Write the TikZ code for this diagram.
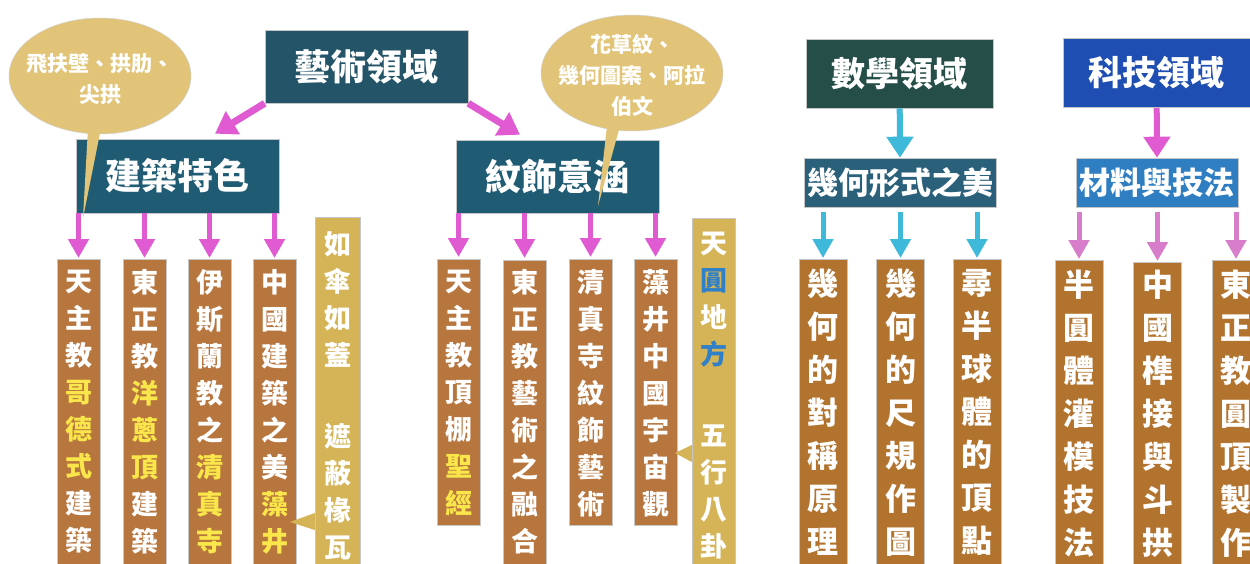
\documentclass[tikz,border=0pt]{standalone}
\usepackage{fontspec}
\setmainfont{Noto Sans CJK TC}
\usetikzlibrary{arrows.meta,shapes.geometric,calc}
\definecolor{artc}{HTML}{245468}
\definecolor{subc}{HTML}{1F5B73}
\definecolor{mathc}{HTML}{254E49}
\definecolor{geoc}{HTML}{2A607A}
\definecolor{techc}{HTML}{1F4EB2}
\definecolor{matc}{HTML}{2F7EC2}
\definecolor{brn}{HTML}{B8763F}
\definecolor{brn2}{HTML}{B2732F}
\definecolor{gold}{HTML}{D4B457}
\definecolor{ell}{HTML}{E2C478}
\definecolor{hl}{HTML}{F9E64A}
\definecolor{mag}{HTML}{E05BD2}
\definecolor{pnk}{HTML}{D77DC9}
\definecolor{cyn}{HTML}{3EB9D9}
\definecolor{blu}{HTML}{2F80C8}
\tikzset{
  hdr/.style={fill=#1, draw=gray!45, line width=0.6pt, text=white, inner sep=0pt},
  colbox/.style={fill=#1, draw=gray!45, line width=0.5pt, anchor=north, inner sep=0pt},
  ctext/.style={text=white, font=\bfseries\fontsize{27}{37}\selectfont, align=center, anchor=north, inner sep=0pt},
  mtext/.style={text=white, font=\bfseries\fontsize{31}{43}\selectfont, align=center, anchor=north, inner sep=0pt},
  bubble/.style={ellipse, fill=ell, draw=gray!35, line width=0.5pt, inner sep=0pt, minimum width=182pt, minimum height=116pt},
  btext/.style={inner sep=0pt, text=white, font=\bfseries\fontsize{21}{31}\selectfont, align=center},
  bigarr/.style={draw=#1, line width=7pt, -{Triangle[width=26pt,length=21pt]}},
  colarr/.style={draw=#1, line width=5.5pt, -{Triangle[width=20pt,length=19pt]}, shorten >=1pt},
}
\newcommand{\hl}[1]{\textcolor{hl}{#1}}
\begin{document}
\begin{tikzpicture}[x=1pt,y=-1pt]
\useasboundingbox (0,0) rectangle (1250,563);
\clip (0,0) rectangle (1250,563);
\fill[white] (0,0) rectangle (1250,563);

% ---------- Art domain ----------
\node[hdr=artc, minimum width=203pt, minimum height=73pt, font=\bfseries\fontsize{36}{36}\selectfont] (art) at (366.5,66.5) {藝術領域};
\node[hdr=subc, minimum width=203pt, minimum height=74pt, font=\bfseries\fontsize{36}{36}\selectfont] (arch) at (177.5,176) {建築特色};
\node[hdr=subc, minimum width=203pt, minimum height=73pt, font=\bfseries\fontsize{36}{36}\selectfont] (orn) at (557.5,176.5) {紋飾意涵};
\draw[bigarr=mag] (art.south west) -- ([xshift=37.5pt,yshift=5pt]arch.north);
\draw[bigarr=mag] (art.south east) -- ([xshift=-37.5pt,yshift=5pt]orn.north);

% architecture columns
\node[colbox=brn, minimum width=43pt, minimum height=320pt] (a1) at (78.5,259) {};
\node[colbox=brn, minimum width=43pt, minimum height=320pt] (a2) at (144.5,259) {};
\node[colbox=brn, minimum width=43pt, minimum height=320pt] (a3) at (209.5,259) {};
\node[colbox=brn, minimum width=43pt, minimum height=320pt] (a4) at (274.5,259) {};
\node[ctext] (a1t) at ([yshift=-10.5pt]a1.north) {天\\主\\教\\\hl{哥}\\\hl{德}\\\hl{式}\\建\\築};
\node[ctext] (a2t) at ([yshift=-10.5pt]a2.north) {東\\正\\教\\\hl{洋}\\\hl{蔥}\\\hl{頂}\\建\\築};
\node[ctext] (a3t) at ([yshift=-10.5pt]a3.north) {伊\\斯\\蘭\\教\\之\\\hl{清}\\\hl{真}\\\hl{寺}};
\node[ctext] (a4t) at ([yshift=-10.5pt]a4.north) {中\\國\\建\\築\\之\\美\\\hl{藻}\\\hl{井}};
\foreach \c in {a1,a2,a3,a4} \draw[colarr=mag] (\c.north |- arch.south) -- (\c.north);

% callout box 1
\node[colbox=gold, minimum width=45pt, minimum height=360pt] (k1) at (337.5,217) {};
\node[ctext] (k1t) at ([yshift=-14.5pt]k1.north) {如\\傘\\如\\蓋\\[44pt]遮\\蔽\\椽\\瓦};
\fill[gold] ([yshift=-296pt]k1.north west) -- (290,522) -- ([yshift=-313pt]k1.north west) -- cycle;

% ornament columns
\node[colbox=brn, minimum width=43pt, minimum height=266pt] (b1) at (458.5,259) {};
\node[colbox=brn, minimum width=43pt, minimum height=320pt] (b2) at (524.5,260) {};
\node[colbox=brn, minimum width=43pt, minimum height=266pt] (b3) at (590.5,259) {};
\node[colbox=brn, minimum width=43pt, minimum height=266pt] (b4) at (655.5,259) {};
\node[ctext] (b1t) at ([yshift=-10.5pt]b1.north) {天\\主\\教\\頂\\棚\\\hl{聖}\\\hl{經}};
\node[ctext] (b2t) at ([yshift=-9.5pt]b2.north) {東\\正\\教\\藝\\術\\之\\融\\合};
\node[ctext] (b3t) at ([yshift=-10.5pt]b3.north) {清\\真\\寺\\紋\\飾\\藝\\術};
\node[ctext] (b4t) at ([yshift=-10.5pt]b4.north) {藻\\井\\中\\國\\宇\\宙\\觀};
\foreach \c in {b1,b2,b3,b4} \draw[colarr=mag] (\c.north |- orn.south) -- ([yshift=1pt]\c.north);

% callout box 2
\node[colbox=gold, minimum width=43pt, minimum height=360pt] (k2) at (713.5,218) {};
\node[ctext] (k2t) at ([yshift=-13.5pt]k2.north) {天\\\textcolor{blu}{圓}\\地\\\textcolor{blu}{方}\\[44pt]五\\行\\八\\卦};
\fill[gold] ([yshift=-227pt]k2.north west) -- (675,453) -- ([yshift=-244pt]k2.north west) -- cycle;

% speech bubbles
\node[bubble] (e1) at (100,76) {};
\node[btext] (e1t) at (100,79) {飛扶壁、拱肋、\\尖拱};
\fill[ell] (88,128) -- (101,128) -- (83,218) -- cycle;
\node[bubble] (e2) at (632,73) {};
\node[btext] (e2t) at (632,75) {花草紋、\\幾何圖案、阿拉\\伯文};
\fill[ell] (607,126) -- (620,126) -- (598,206) -- cycle;

% ---------- Math domain ----------
\node[hdr=mathc, minimum width=187pt, minimum height=69pt, font=\bfseries\fontsize{34}{34}\selectfont] (math) at (899.5,73.5) {數學領域};
\node[hdr=geoc, minimum width=192pt, minimum height=49pt, font=\bfseries\fontsize{31}{31}\selectfont] (geo) at (900,182.5) {幾何形式之美};
\draw[bigarr=cyn, line width=6pt] (math) -- (geo.north);
\node[colbox=brn2, minimum width=48pt, minimum height=320pt] (m1) at (823,259) {};
\node[colbox=brn2, minimum width=48pt, minimum height=320pt] (m2) at (900.5,259) {};
\node[colbox=brn2, minimum width=48pt, minimum height=320pt] (m3) at (977,259) {};
\node[mtext] (m1t) at ([yshift=-10pt]m1.north) {幾\\何\\的\\對\\稱\\原\\理};
\node[mtext] (m2t) at ([yshift=-10pt]m2.north) {幾\\何\\的\\尺\\規\\作\\圖};
\node[mtext] (m3t) at ([yshift=-10pt]m3.north) {尋\\半\\球\\體\\的\\頂\\點};
\foreach \c in {m1,m2,m3} \draw[colarr=cyn, line width=5pt] ([yshift=-5pt]\c.north |- geo.south) -- (\c.north);

% ---------- Tech domain ----------
\node[hdr=techc, minimum width=187pt, minimum height=69pt, font=\bfseries\fontsize{34}{34}\selectfont] (tech) at (1156.5,73) {科技領域};
\node[hdr=matc, minimum width=162pt, minimum height=49pt, font=\bfseries\fontsize{31}{31}\selectfont] (mat) at (1157,182.5) {材料與技法};
\draw[bigarr=mag, line width=6pt] (tech) -- (mat.north);
\node[colbox=brn2, minimum width=48pt, minimum height=320pt] (t1) at (1079,260) {};
\node[colbox=brn2, minimum width=48pt, minimum height=320pt] (t2) at (1157.5,262) {};
\node[colbox=brn2, minimum width=48pt, minimum height=320pt] (t3) at (1236,260) {};
\node[mtext] (t1t) at ([yshift=-10pt]t1.north) {半\\圓\\體\\灌\\模\\技\\法};
\node[mtext] (t2t) at ([yshift=-8pt]t2.north) {中\\國\\榫\\接\\與\\斗\\拱};
\node[mtext] (t3t) at ([yshift=-10pt]t3.north) {東\\正\\教\\圓\\頂\\製\\作};
\foreach \c in {t1,t2,t3} \draw[colarr=pnk, line width=5pt] ([yshift=-5pt]\c.north |- mat.south) -- (\c.north);
\end{tikzpicture}
\end{document}
